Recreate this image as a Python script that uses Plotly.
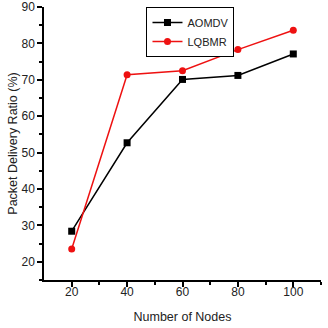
import plotly.graph_objects as go

nodes = [20, 40, 60, 80, 100]
aomdv = [28.4, 52.7, 70.1, 71.2, 77.1]
lqbmr = [23.5, 71.4, 72.5, 78.3, 83.6]

fig = go.Figure()
fig.add_trace(go.Scatter(x=nodes, y=aomdv, name="AOMDV", mode="lines+markers",
                         line=dict(color="black", width=1.5),
                         marker=dict(symbol="square", size=7, color="black")))
fig.add_trace(go.Scatter(x=nodes, y=lqbmr, name="LQBMR", mode="lines+markers",
                         line=dict(color="#ee1111", width=1.5),
                         marker=dict(symbol="circle", size=7, color="#ee1111")))

axis_common = dict(showline=True, linecolor="black", linewidth=1.5, ticks="outside",
                   tickcolor="black", ticklen=5, tickwidth=1.5, showgrid=False,
                   zeroline=False, ticklabeloverflow="allow", automargin=False,
                   tickfont=dict(family="Liberation Sans", size=12, color="#222"))
fig.update_xaxes(range=[10, 110], tickvals=[20, 40, 60, 80, 100],
                 minor=dict(tickvals=[30, 50, 70, 90, 110], ticks="outside", ticklen=3, tickcolor="black", tickwidth=1.5),
                 ticklabelstandoff=-5,
                 title=dict(text="Number of Nodes", font=dict(family="Liberation Sans", size=12.5, color="#222"), standoff=14),
                 **axis_common)
fig.update_yaxes(range=[15, 90], tickvals=[20, 30, 40, 50, 60, 70, 80, 90],
                 minor=dict(tickvals=[15, 25, 35, 45, 55, 65, 75, 85], ticks="outside", ticklen=3, tickcolor="black", tickwidth=1.5),
                 title=dict(text="Packet Delivery Ratio (%)", font=dict(family="Liberation Sans", size=12.5, color="#222"), standoff=1),
                 **axis_common)
fig.update_layout(width=328, height=328, margin=dict(l=44, r=7, t=7, b=48),
                  plot_bgcolor="white", paper_bgcolor="white",
                  legend=dict(x=0.37, y=1.0, xanchor="left", yanchor="top",
                              bordercolor="black", borderwidth=1, bgcolor="white",
                              font=dict(family="Liberation Sans", size=11, color="#222"),
                              itemwidth=30, tracegroupgap=0))
fig.write_html("out.html")
